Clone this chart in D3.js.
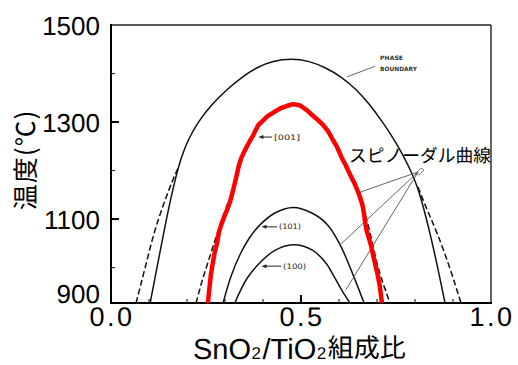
<!DOCTYPE html>
<html><head><meta charset="utf-8">
<script src="https://cdn.jsdelivr.net/npm/d3@7"></script>
<style>body{margin:0;background:#fff} text{text-rendering:geometricPrecision}</style>
</head><body><svg id="c" width="518" height="365"></svg>
<script>
// ---- data ----
const xTicksMajor = [0, 0.5, 1.0];
const xTicksMinor = [0.1, 0.2, 0.3, 0.4, 0.6, 0.7, 0.8, 0.9];
const yTickLabels = [1500, 1300, 1100, 900];
const yTicksMajor = [1300, 1100];
const yTicksMinor = [1400, 1200, 1000];

// phase boundary (solid)
const phaseBoundary = [[0.103,927],[0.121,1000],[0.139,1073],[0.155,1135],[0.17,1185],[0.185,1228],[0.203,1264],[0.229,1300],[0.263,1335],[0.306,1368],[0.345,1393],[0.384,1413],[0.426,1426],[0.475,1431],[0.522,1426],[0.565,1412],[0.605,1394],[0.645,1368],[0.68,1337],[0.712,1303],[0.742,1268],[0.768,1233],[0.79,1198],[0.808,1164],[0.823,1122],[0.839,1073],[0.86,1000],[0.879,927]];
// outer dashed curve
const outerDashLeft = [[0.066,927],[0.09,1000],[0.113,1073],[0.14,1135],[0.162,1180],[0.178,1208]];
const outerDashRight = [[0.808,1166],[0.832,1118],[0.858,1073],[0.892,1000],[0.921,927]];
// spinodal [001] (red)
const spinodal001 = [[0.255,927],[0.259,958],[0.263,986],[0.268,1010],[0.273,1032],[0.279,1050],[0.284,1073],[0.29,1088],[0.298,1105],[0.306,1120],[0.313,1135],[0.318,1150],[0.322,1162],[0.327,1178],[0.332,1195],[0.337,1212],[0.343,1226],[0.35,1238],[0.358,1250],[0.366,1262],[0.374,1272],[0.381,1284],[0.388,1294],[0.4,1303],[0.412,1312],[0.428,1320],[0.445,1328],[0.462,1333],[0.479,1337],[0.498,1334],[0.516,1324],[0.53,1314],[0.545,1304],[0.558,1294],[0.572,1280],[0.584,1263],[0.594,1250],[0.603,1234],[0.61,1222],[0.617,1212],[0.624,1200],[0.631,1189],[0.64,1175],[0.648,1160],[0.655,1146],[0.662,1128],[0.666,1110],[0.669,1092],[0.673,1075],[0.679,1060],[0.684,1046],[0.689,1028],[0.695,1008],[0.701,988],[0.707,964],[0.713,927]];
// inner dashed curve
const innerDashLeft = [[0.224,927],[0.24,975],[0.256,1012],[0.275,1060],[0.295,1106],[0.31,1138]];
const innerDashRight = [[0.663,1125],[0.672,1100],[0.682,1073],[0.7,1005],[0.717,965],[0.734,927]];
// spinodal (101) and (100)
const curve101 = [[0.295,927],[0.315,980],[0.339,1026],[0.365,1062],[0.392,1088],[0.43,1112],[0.479,1124],[0.53,1112],[0.57,1088],[0.603,1047],[0.637,985],[0.666,927]];
const curve100 = [[0.326,927],[0.339,950],[0.36,980],[0.392,1010],[0.43,1035],[0.479,1047],[0.53,1036],[0.565,1010],[0.586,983],[0.61,950],[0.629,927]];

// annotations (data coordinates)
const pointerLabels = [
  {text:"[001]", x:0.429, t:1269, from:0.424, to:0.388, len:26},
  {text:"(101)", x:0.442, t:1084, from:0.437, to:0.396, len:22},
  {text:"(100)", x:0.453, t:1003, from:0.448, to:0.396, len:23}
];
const spinodalLeaderOrigin = [0.808, 1197];
const spinodalLeaderTargets = [[0.650,1154],[0.603,1047],[0.618,954]];
const phaseLeader = [[0.621,1393],[0.695,1415]];
// [text, kind] kind: "latin" | "sub" | "cjk"
const xTitleParts = [["SnO","latin"],["2","sub"],["/TiO","latin"],["2","sub"],["組成比","cjk"]];

// ---- layout ----
const svg = d3.select("#c");
const yMin = 927;
const x = d3.scaleLinear([0,1],[111,491]);
const y = d3.scaleLinear([yMin,1500],[303,25]);
const smooth = d3.line().x(d=>x(d[0])).y(d=>y(d[1])).curve(d3.curveBasis);

// frame
svg.append("line").attr("x1",x(0)).attr("x2",x(1)).attr("y1",y(1500)).attr("y2",y(1500)).attr("stroke","#222").attr("stroke-width",1.4);
svg.append("line").attr("x1",x(1)).attr("x2",x(1)).attr("y1",y(1500)).attr("y2",y(yMin)).attr("stroke","#222").attr("stroke-width",1.4);
svg.append("line").attr("x1",x(0)).attr("x2",x(0)).attr("y1",y(1500)-1).attr("y2",y(yMin)+1).attr("stroke","#000").attr("stroke-width",2);
svg.append("line").attr("x1",x(0)-1).attr("x2",x(1)+1).attr("y1",y(yMin)).attr("y2",y(yMin)).attr("stroke","#000").attr("stroke-width",2);

// y ticks
yTicksMajor.forEach(v=>svg.append("line").attr("x1",x(0)).attr("x2",x(0)+8).attr("y1",y(v)).attr("y2",y(v)).attr("stroke","#000").attr("stroke-width",2));
yTicksMinor.forEach(v=>svg.append("line").attr("x1",x(0)).attr("x2",x(0)+4).attr("y1",y(v)).attr("y2",y(v)).attr("stroke","#333").attr("stroke-width",1.2));
// x ticks
xTicksMajor.filter(v=>v>0&&v<1).forEach(v=>svg.append("line").attr("x1",x(v)).attr("x2",x(v)).attr("y1",y(yMin)).attr("y2",y(yMin)-8).attr("stroke","#000").attr("stroke-width",2));
xTicksMinor.forEach(v=>svg.append("line").attr("x1",x(v)).attr("x2",x(v)).attr("y1",y(yMin)).attr("y2",y(yMin)-4).attr("stroke","#333").attr("stroke-width",1.2));

// y tick labels
svg.selectAll(".yl").data(yTickLabels).enter().append("text")
  .attr("x",100).attr("y",v=>Math.min(y(v), y(yMin)-10)+1)
  .attr("text-anchor","end").attr("dominant-baseline","central")
  .attr("font-family","Liberation Sans, Arial, sans-serif").attr("font-size",26)
  .attr("fill","#000").text(v=>v);
// x tick labels
svg.selectAll(".xl").data(xTicksMajor).enter().append("text")
  .attr("x",v=>x(v)+1).attr("y",326)
  .attr("text-anchor","middle")
  .attr("font-family","Liberation Sans, Arial, sans-serif").attr("font-size",27)
  .attr("letter-spacing",2.5).attr("fill","#000").text(d3.format(".1f"));

// curves
svg.append("path").attr("d",smooth(phaseBoundary)).attr("fill","none").attr("stroke","#111").attr("stroke-width",1.5);
[outerDashLeft,outerDashRight,innerDashLeft,innerDashRight].forEach(c=>
  svg.append("path").attr("d",smooth(c)).attr("fill","none").attr("stroke","#111").attr("stroke-width",1.5).attr("stroke-dasharray","6,3"));
[curve101,curve100].forEach(c=>
  svg.append("path").attr("d",d3.line().x(d=>x(d[0])).y(d=>y(d[1])).curve(d3.curveCatmullRom)(c)).attr("fill","none").attr("stroke","#111").attr("stroke-width",1.5));

// leader lines
spinodalLeaderTargets.forEach(t=>svg.append("line")
  .attr("x1",x(spinodalLeaderOrigin[0])).attr("y1",y(spinodalLeaderOrigin[1]))
  .attr("x2",x(t[0])).attr("y2",y(t[1])).attr("stroke","#555").attr("stroke-width",0.9));
svg.append("path").attr("d",`M${x(spinodalLeaderOrigin[0])-3},${y(spinodalLeaderOrigin[1])+2} l6,-6 l3,2 l-5,5 z`).attr("fill","none").attr("stroke","#666").attr("stroke-width",0.8);
svg.append("line").attr("x1",x(phaseLeader[0][0])).attr("y1",y(phaseLeader[0][1]))
  .attr("x2",x(phaseLeader[1][0])).attr("y2",y(phaseLeader[1][1])).attr("stroke","#555").attr("stroke-width",0.9);

// red spinodal on top
svg.append("path").attr("d",d3.line().x(d=>x(d[0])).y(d=>y(d[1]))(spinodal001)).attr("fill","none").attr("stroke","#ff0000").attr("stroke-width",4.5).attr("stroke-linejoin","round");

// pointer labels
pointerLabels.forEach(p=>{
  const yy=y(p.t);
  svg.append("line").attr("x1",x(p.from)).attr("x2",x(p.to)+4).attr("y1",yy).attr("y2",yy).attr("stroke","#222").attr("stroke-width",1);
  svg.append("path").attr("d",`M${x(p.to)},${yy} l5,-2 l0,4 z`).attr("fill","#222");
  svg.append("text").attr("x",x(p.x)).attr("y",yy).attr("dominant-baseline","central")
    .attr("font-family","DejaVu Sans, sans-serif").attr("font-size",7.5).attr("fill","#222")
    .attr("textLength",p.len).attr("lengthAdjust","spacingAndGlyphs").text(p.text);
});

// PHASE BOUNDARY
svg.append("text").attr("x",380).attr("y",59.5).attr("font-family","DejaVu Sans, sans-serif").attr("font-weight","bold").attr("font-size",6).attr("fill","#333").attr("textLength",23).attr("lengthAdjust","spacingAndGlyphs").text("PHASE");
svg.append("text").attr("x",380).attr("y",70.5).attr("font-family","DejaVu Sans, sans-serif").attr("font-weight","bold").attr("font-size",6).attr("fill","#333").attr("textLength",37).attr("lengthAdjust","spacingAndGlyphs").text("BOUNDARY");

// spinodal label
svg.append("text").attr("x",349).attr("y",155).attr("dominant-baseline","central")
  .attr("font-family","Noto Sans CJK JP, sans-serif").attr("font-size",18).attr("fill","#000")
  .attr("textLength",142).attr("lengthAdjust","spacingAndGlyphs").text("スピノーダル曲線");

// x axis title as separate pieces
const titleStyle = {
  latin:{font:"Liberation Sans, Arial, sans-serif", size:29, base:359, gap:0.5},
  sub:{font:"Liberation Sans, Arial, sans-serif", size:17, base:359, gap:1.5},
  cjk:{font:"Noto Sans CJK JP, sans-serif", size:26, base:357, gap:0}
};
let cx = 193;
xTitleParts.forEach(([s,k])=>{
  const st = titleStyle[k];
  const t = svg.append("text").attr("x",cx).attr("y",st.base)
    .attr("font-family",st.font).attr("font-size",st.size).attr("fill","#000").text(s);
  cx += t.node().getComputedTextLength() + st.gap;
});

// y axis title
svg.append("text").attr("transform","translate(24.5,160) rotate(-90)")
  .attr("text-anchor","middle").attr("dominant-baseline","central")
  .attr("font-family","Noto Sans CJK JP, sans-serif").attr("font-size",26).attr("fill","#000")
  .attr("letter-spacing",1).text("温度(℃)");
</script></body></html>
